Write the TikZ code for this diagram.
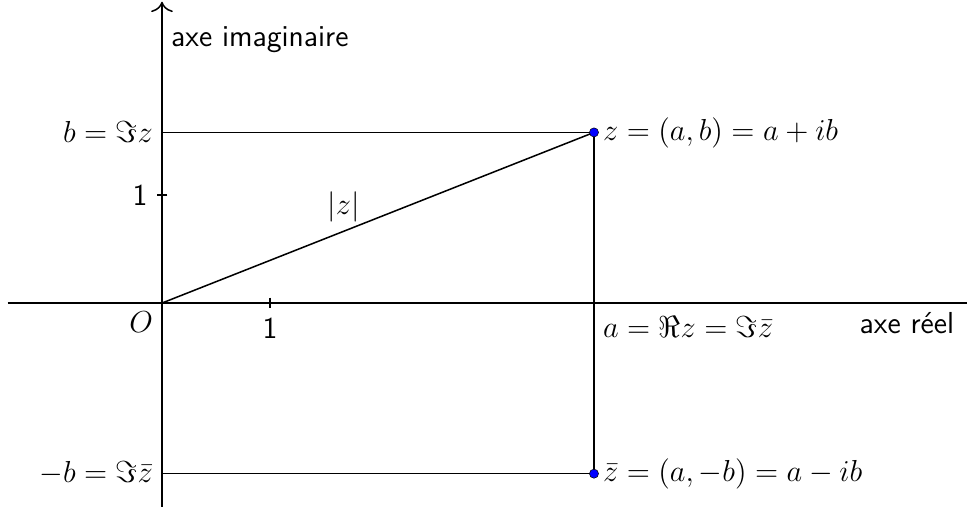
\documentclass[tikz,border=0pt]{standalone}
\usetikzlibrary{arrows.meta}
\begin{document}
\begin{tikzpicture}[x=1.5cm,y=1.5cm,semithick,font=\fontsize{12}{14.4}\selectfont\sffamily,dot/.style={fill=blue,draw=black,line width=0.2pt}]
\useasboundingbox (-1.5,-1.88) rectangle (7.454,2.806);
\coordinate (O) at (0,0);
\coordinate (xl) at (-1.43,0);
\coordinate (xr) at (7.46,0);
\coordinate (yb) at (0,-1.9);
\coordinate (yt) at (0,2.79);
\coordinate (z) at (4,1.58);
\coordinate (zb) at (4,-1.58);
\coordinate (b) at (0,1.58);
\coordinate (mb) at (0,-1.58);
\draw (xl) -- (xr);
\draw[-{To[scale=1.4]}] (yb) -- (yt);
\node at (0,2.44) [right] (yname) {axe imaginaire};
\node at (7.42,-0.19) [left] (xname) {axe r\'eel};
\node at (O) [below left] {$O$};
\draw (1,0.05) -- (1,-0.05) node[below] {1};
\draw (0.05,1) -- (-0.05,1) node[left] {1};
\draw (O) -- (z) node[pos=0.42,above] {$|z|$};
\draw (b) -- (z) -- (zb) -- (mb);
\node at (b) [left] (bl) {$b=\Im z$};
\node at (mb) [left] (mbl) {$-b=\Im\bar z$};
\node at (4,-0.22) [right] (al) {$a=\Re z=\Im\bar z$};
\node at (z) [right] (zl) {$z=(a,b)=a+ib$};
\node at (zb) [right] (zbl) {$\bar z=(a,-b)=a-ib$};
\fill[dot] (z) circle (1.8pt);
\fill[dot] (zb) circle (1.8pt);
\end{tikzpicture}
\end{document}
